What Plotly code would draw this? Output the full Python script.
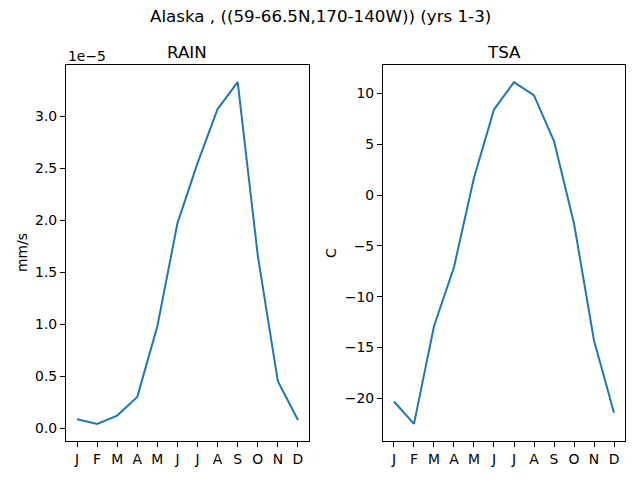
import plotly.graph_objects as go

# monthly climatology
months = ["J", "F", "M", "A", "M", "J", "J", "A", "S", "O", "N", "D"]
rain = [0.085e-5, 0.04e-5, 0.12e-5, 0.30e-5, 0.98e-5, 1.97e-5,
        2.55e-5, 3.07e-5, 3.33e-5, 1.66e-5, 0.45e-5, 0.077e-5]
tsa = [-20.3, -22.5, -12.9, -7.1, 1.7, 8.4, 11.1, 9.8, 5.3, -2.8, -14.3, -21.4]
rain_ticks = [0.0, 0.5, 1.0, 1.5, 2.0, 2.5, 3.0]
tsa_ticks = [-20, -15, -10, -5, 0, 5, 10]

x = list(range(len(months)))
blue = "#1f77b4"
font = "DejaVu Sans"

fig = go.Figure()
fig.add_trace(go.Scatter(x=x, y=rain, mode="lines", line=dict(color=blue, width=2),
                         xaxis="x", yaxis="y", showlegend=False))
fig.add_trace(go.Scatter(x=x, y=tsa, mode="lines", line=dict(color=blue, width=2),
                         xaxis="x2", yaxis="y2", showlegend=False))


def pad(vals):
    lo, hi = min(vals), max(vals)
    m = (hi - lo) * 0.05
    return [lo - m, hi + m]


axis_common = dict(showgrid=False, zeroline=False, showline=True, linecolor="black",
                   linewidth=1, mirror=True, ticks="outside", ticklen=5,
                   tickcolor="black", tickwidth=1,
                   tickfont=dict(family=font, size=13.9, color="black"))

fig.update_layout(
    width=640, height=480,
    margin=dict(l=0, r=0, t=0, b=0),
    paper_bgcolor="white", plot_bgcolor="white",
    font=dict(family=font, color="black"),
    xaxis=dict(domain=[0.1031, 0.4828], range=[-0.55, 11.55], anchor="y",
               tickvals=x, ticktext=months, **axis_common),
    yaxis=dict(domain=[0.0813, 0.8646], range=pad(rain), anchor="x",
               tickvals=[v * 1e-5 for v in rain_ticks],
               ticktext=[f"{v:.1f}" for v in rain_ticks], **axis_common),
    xaxis2=dict(domain=[0.5984, 0.9766], range=[-0.55, 11.55], anchor="y2",
                tickvals=x, ticktext=months, **axis_common),
    yaxis2=dict(domain=[0.0813, 0.8646], range=pad(tsa), anchor="x2",
                tickvals=tsa_ticks,
                ticktext=[str(v).replace("-", "\u2212") for v in tsa_ticks], **axis_common),
)

annots = [
    dict(text="Alaska , ((59-66.5N,170-140W)) (yrs 1-3)", x=0.5, y=1 - 16 / 480, size=16.7),
    dict(text="RAIN", x=(0.1031 + 0.4828) / 2, y=1 - 52 / 480, size=16.7),
    dict(text="TSA", x=(0.5984 + 0.9766) / 2, y=1 - 52 / 480, size=16.7),
]
for a in annots:
    fig.add_annotation(text=a["text"], x=a["x"], y=a["y"], xref="paper", yref="paper",
                       showarrow=False, xanchor="center", yanchor="middle",
                       font=dict(family=font, size=a["size"], color="black"))

fig.add_annotation(text="1e\u22125", x=66 / 640, y=1 - 56 / 480, xref="paper", yref="paper",
                   showarrow=False, xanchor="left", yanchor="middle",
                   font=dict(family=font, size=13.9, color="black"))
fig.add_annotation(text="mm/s", x=22 / 640, y=1 - 253 / 480, xref="paper", yref="paper",
                   showarrow=False, textangle=-90, xanchor="center", yanchor="middle",
                   font=dict(family=font, size=13.9, color="black"))
fig.add_annotation(text="C", x=331 / 640, y=1 - 253 / 480, xref="paper", yref="paper",
                   showarrow=False, textangle=-90, xanchor="center", yanchor="middle",
                   font=dict(family=font, size=13.9, color="black"))

fig.write_html("out.html", config={"displayModeBar": False},
               post_script="document.body.style.margin='0';")
